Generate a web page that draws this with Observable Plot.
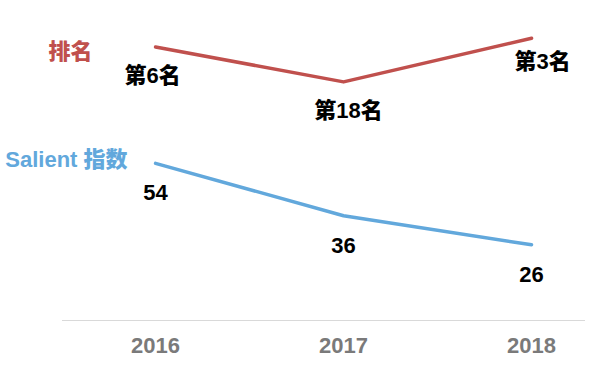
<!DOCTYPE html>
<html><head><meta charset="utf-8">
<script src="https://cdn.jsdelivr.net/npm/d3@7"></script>
<script src="https://cdn.jsdelivr.net/npm/@observablehq/plot@0.6"></script>
<style>
body{margin:0;background:#fff}
#chart{position:relative;width:600px;height:366px}
#chart svg{position:absolute;left:0;top:0}
</style></head><body><div id="chart"></div>
<script>
const years = [2016, 2017, 2018];
const rankValues = [6, 18, 3];
const rankLabels = ["第6名", "第18名", "第3名"];
const salientValues = [54, 36, 26];
const salientLabels = ["54", "36", "26"];
const seriesNames = ["排名", "Salient 指数"];

const red = "#c0504d", blue = "#62a8dc";
const font = '"Liberation Sans", Arial, "Noto Sans CJK SC", sans-serif';
const rankData = years.map((year, i) => ({year, value: rankValues[i], label: rankLabels[i]}));
const salientData = years.map((year, i) => ({year, value: salientValues[i], label: salientLabels[i]}));

const common = {
  width: 600, height: 366,
  marginLeft: 62, marginRight: 15, marginTop: 29, marginBottom: 46,
  style: {fontFamily: font, background: "transparent", overflow: "visible"},
  x: {type: "linear", domain: [2015.505, 2018.287]}
};

// Bottom layer: Salient index with x axis
const plotSalient = Plot.plot({
  ...common,
  y: {domain: [0, 100], axis: null},
  marks: [
    Plot.ruleY([0], {stroke: "#d9d9d9", strokeWidth: 1}),
    Plot.axisX({ticks: years, tickFormat: d => String(d), tickSize: 0, tickPadding: 17,
      fontSize: 22, fontWeight: "bold", fill: "#7a7a7a", label: null}),
    Plot.line(salientData, {x: "year", y: "value", stroke: blue, strokeWidth: 3.5, curve: "linear"}),
    Plot.text(salientData, {x: "year", y: "value", text: "label", dy: 30, lineAnchor: "middle",
      fontSize: 22, fontWeight: 900, fill: "#000"}),
    Plot.text([salientData[0]], {x: "year", y: "value", text: () => seriesNames[1], textAnchor: "end",
      dx: -28, dy: -3, lineAnchor: "middle", fontSize: 22, fontWeight: 900, fill: blue})
  ]
});

// Top layer: ranking (reversed scale, rank 1 at top)
const rankDx = [-3, 5, 11], rankDy = [29, 29, 24];
const plotRank = Plot.plot({
  ...common,
  x: {...common.x, axis: null},
  y: {domain: [0, 100], reverse: true, axis: null},
  marks: [
    Plot.line(rankData, {x: "year", y: "value", stroke: red, strokeWidth: 3.5}),
    ...rankData.map((d, i) => Plot.text([d], {x: "year", y: "value", text: "label",
      dx: rankDx[i], dy: rankDy[i], lineAnchor: "middle", fontSize: 22, fontWeight: 900, fill: "#000"})),
    Plot.text([rankData[0]], {x: "year", y: "value", text: () => seriesNames[0], textAnchor: "end",
      dx: -63, dy: 5, lineAnchor: "middle", fontSize: 22, fontWeight: 900, fill: red})
  ]
});

const el = document.getElementById("chart");
el.append(plotSalient, plotRank);
</script></body></html>
